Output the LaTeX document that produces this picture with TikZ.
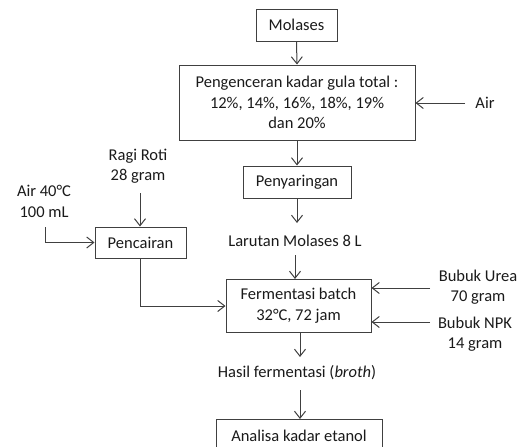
\documentclass[tikz,border=0pt]{standalone}
\usepackage{fontspec}
\setmainfont{Carlito}
\usetikzlibrary{arrows.meta}
\definecolor{ln}{HTML}{404040}
\definecolor{tx}{HTML}{1A1A1A}
\begin{document}
\begin{tikzpicture}[x=1pt,y=-1pt,
  every node/.style={font=\fontsize{16.5}{20.5}\selectfont, text=tx, align=center, inner sep=0pt},
  boxn/.style={draw=ln, line width=1pt},
  conn/.style={draw=ln, line width=1pt, -{Straight Barb[length=7pt,width=11pt,line width=1pt]}}]
\useasboundingbox (0,0) rectangle (520,447);
\clip (0,0) rectangle (520,447);
\node[boxn, minimum width=81, minimum height=32] (mol) at (296.5,25) {Molases};
\node[boxn, minimum width=236, minimum height=75] (peng) at (297,102.5) {Pengenceran kadar gula total :\\12\%, 14\%, 16\%, 18\%, 19\%\\dan 20\%};
\node (air) at (485,103) {Air};
\node[boxn, minimum width=108, minimum height=32] (peny) at (297,182) {Penyaringan};
\node (lar) at (295,241) {Larutan Molases 8 L};
\node[boxn, minimum width=145, minimum height=53] (ferm) at (298.5,305.5) {Fermentasi batch\\32°C, 72 jam};
\node (urea) at (478,287) {Bubuk Urea\\70 gram};
\node (npk) at (475,334) {Bubuk NPK\\14 gram};
\node (has) at (297,373) {Hasil fermentasi (\textit{broth})};
\node[boxn, minimum width=166, minimum height=34] (ana) at (299,436) {Analisa kadar etanol};
\node[boxn, minimum width=91, minimum height=31] (penc) at (140.5,242.5) {Pencairan};
\node (ragi) at (138,166) {Ragi Roti\\28 gram};
\node (air40) at (44,201.5) {Air 40°C\\100 mL};
\coordinate (airS) at (465,103);
\coordinate (ureaS) at (430,288);
\coordinate (npkS) at (430,322);
\coordinate (ragiS) at (140,193);
\coordinate (air40S) at (45,227);
\draw[conn] (mol.south) -- (peng.north);
\draw[conn] (airS) -- (airS -| peng.east);
\draw[conn] (peng.south) -- (peny.north);
\draw[conn] (peny.south) -- (297,223);
\draw[conn] (295,255) -- (295,279);
\draw[conn] (ureaS) -- (ureaS -| ferm.east);
\draw[conn] (npkS) -- (npkS -| ferm.east);
\draw[conn] (300,332) -- (300,357);
\draw[conn] (300,390) -- (300,419);
\draw[conn] (ragiS) -- (ragiS |- penc.north);
\draw[conn] (air40S) |- (penc.west);
\draw[conn] (penc.south) |- (ferm.west |- 0,306);
\end{tikzpicture}
\end{document}
